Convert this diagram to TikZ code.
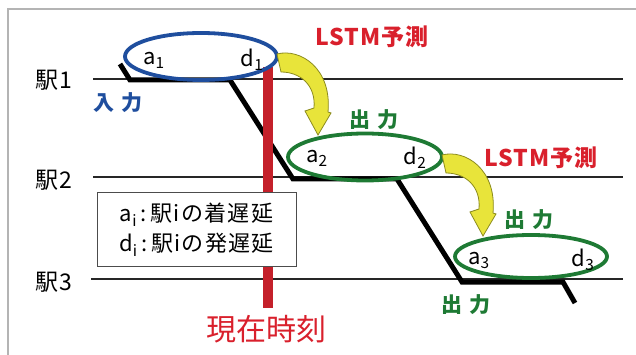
\documentclass[tikz,border=0pt]{standalone}
\usepackage{fontspec}
\setmainfont{Noto Sans CJK JP}
\usetikzlibrary{shapes.geometric}
\definecolor{ellblue}{HTML}{1F4E9E}
\definecolor{ellgreen}{HTML}{1E7A34}
\definecolor{redc}{HTML}{D9202C}
\definecolor{redline}{HTML}{C4202A}
\definecolor{yel}{HTML}{E8E43A}
\definecolor{yeledge}{HTML}{8C8C1E}
\definecolor{frameg}{HTML}{B4B4B4}
\begin{document}
\begin{tikzpicture}[x=1pt,y=-1pt,
  stationline/.style={draw=black!85, line width=1.8pt},
  stlabel/.style={font=\fontsize{23}{25}\selectfont\addfontfeature{LetterSpace=4}, inner sep=0pt},
  ell/.style={ellipse, draw, line width=3.8pt, inner sep=0pt},
  delay/.style={font=\fontsize{22}{24}\selectfont, inner sep=0pt},
  outlabel/.style={font=\bfseries\fontsize{21}{23}\selectfont, text=ellgreen, inner sep=0pt},
  lstm/.style={font=\bfseries\fontsize{23}{25}\selectfont\addfontfeature{LetterSpace=4}, text=redc, inner sep=0pt},
  yarrow/.pic={\filldraw[fill=yel, draw=yeledge, line width=0.8pt]
     (0,0) .. controls (23,-6) and (55,14) .. (51,58) -- (54,59) -- (41,81) -- (28,57) -- (37,54)
     .. controls (39,31) and (23,18) .. (4,18) -- cycle;}
]
\useasboundingbox (0,0) rectangle (636,355);
% frame
\draw[frameg, line width=1.5pt] (8,355) -- (8,9) -- (636,9);
% station lines
\coordinate (s1a) at (93,79);  \coordinate (s1b) at (623,79);
\coordinate (s2a) at (93,177); \coordinate (s2b) at (623,177);
\coordinate (s3a) at (91,279); \coordinate (s3b) at (623,279);
\draw[stationline] (s1a) -- (s1b);
\draw[stationline] (s2a) -- (s2b);
\draw[stationline] (s3a) -- (s3b);
\node[stlabel] (st1) at (54,80) {駅1};
\node[stlabel] (st2) at (54,180) {駅2};
\node[stlabel] (st3) at (54,282) {駅3};
% train trajectory
\draw[line width=5pt, line join=miter] (120,64) -- (130,80) -- (230,80) -- (293,179) -- (397,179) -- (462,282) -- (563,282) -- (575,303);
% current time line
\coordinate (nowtop) at (267.5,67);
\coordinate (nowbot) at (267.5,308);
\draw[redline, line width=10pt] (nowtop) -- (nowbot);
\node[font=\fontsize{30}{32}\selectfont, text=redc, inner sep=0pt] (now) at (266,329) {現在時刻};
% ellipses
\node[ell, draw=ellblue, minimum width=152pt, minimum height=47pt] (e1) at (201,56.5) {};
\node[ell, draw=ellgreen, minimum width=154pt, minimum height=47pt] (e2) at (365,157) {};
\node[ell, draw=ellgreen, minimum width=152pt, minimum height=43pt] (e3) at (531,256.5) {};
% delays
\node[delay] (a1) at (154,60) {a\textsubscript{1}};
\node[delay] (d1) at (252,60) {d\textsubscript{1}};
\node[delay] (a2) at (317,158) {a\textsubscript{2}};
\node[delay] (d2) at (415,158) {d\textsubscript{2}};
\node[delay] (a3) at (479,260) {a\textsubscript{3}};
\node[delay] (d3) at (583,260) {d\textsubscript{3}};
% arrows
\pic at (277,54) {yarrow};
\pic at (442,155) {yarrow};
% labels
\node[font=\bfseries\fontsize{21}{23}\selectfont, text=ellblue, inner sep=0pt] (in1) at (118,103) {入\hspace{8pt}力};
\node[lstm] (l1) at (372,37) {LSTM予測};
\node[lstm] (l2) at (541,158) {LSTM予測};
\node[outlabel] (o2) at (374,120) {出\hspace{7pt}力};
\node[outlabel] (o3) at (529,220) {出\hspace{7pt}力};
\node[outlabel] (o4) at (466,305) {出\hspace{7pt}力};
% legend
\node[draw=black!70, fill=white, line width=1pt, minimum width=199pt, minimum height=73pt,
      align=center, font=\fontsize{22}{30}\selectfont\addfontfeature{LetterSpace=6}, inner sep=0pt] (leg) at (196.5,229.5)
  {a\textsubscript{i}\,:\,駅iの着遅延\\d\textsubscript{i}\,:\,駅iの発遅延};
\end{tikzpicture}
\end{document}
